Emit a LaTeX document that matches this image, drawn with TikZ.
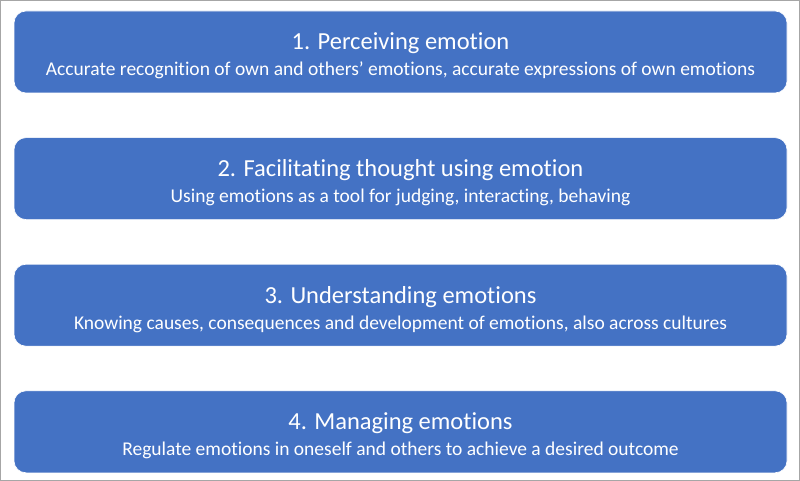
\documentclass[tikz,border=0pt]{standalone}
\usepackage{fontspec}
\setmainfont{Carlito}[Ligatures=NoCommon]
\usepackage{xcolor}
\usepackage{tikz}
\usetikzlibrary{positioning}
\definecolor{officeblue}{RGB}{68,114,196}
\definecolor{framegray}{RGB}{166,166,166}
\newcommand{\boxtitle}[1]{{\fontsize{24.5}{26}\selectfont #1}}

\begin{document}
\begin{tikzpicture}[
    x=1pt,y=-1pt,
    branchbox/.style={
      fill=officeblue,draw=white,line width=0.6pt,rounded corners=12pt,
      minimum width=773pt,minimum height=82pt,
      text=white,align=center,inner sep=0pt,
      text height=54pt,text depth=6pt,
      font=\fontsize{19.5}{26}\selectfont
    }
  ]
    \useasboundingbox (0,0) rectangle (800,481);
    \draw[framegray,line width=1pt] (0.5,0.5) rectangle (799.5,480.5);

    \node[branchbox] (perceive) at (400.5,52)
      {\boxtitle{1. Perceiving emotion}\\
       Accurate recognition of own and others’ emotions, accurate expressions of own emotions};
    \node[branchbox,below=44pt of perceive] (facilitate)
      {\boxtitle{2. Facilitating thought using emotion}\\
       Using emotions as a tool for judging, interacting, behaving};
    \node[branchbox,below=44pt of facilitate] (understand)
      {\boxtitle{3. Understanding emotions}\\
       Knowing causes, consequences and development of emotions, also across cultures};
    \node[branchbox,below=44pt of understand] (manage)
      {\boxtitle{4. Managing emotions}\\
       Regulate emotions in oneself and others to achieve a desired outcome};
  \end{tikzpicture}
\end{document}
